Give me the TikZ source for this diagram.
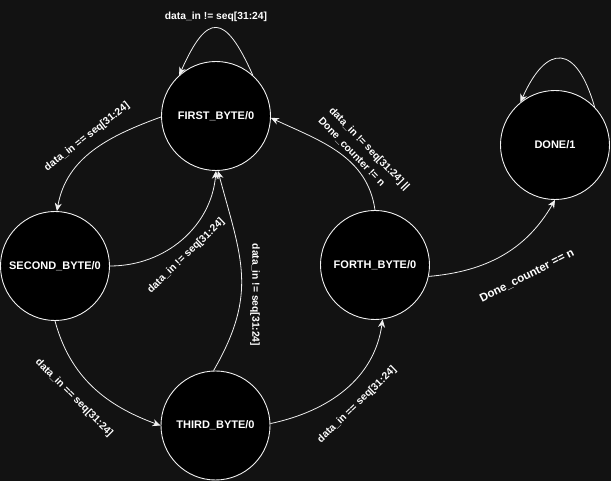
\documentclass[tikz,border=0pt]{standalone}
\usepackage{fontspec}
\setmainfont{Liberation Sans}
\usetikzlibrary{arrows.meta}
\definecolor{bgdark}{HTML}{121212}
\definecolor{edgegray}{HTML}{F0F0F0}

\begin{document}
\begin{tikzpicture}[x=1pt, y=1pt,
    state/.style={circle, draw=edgegray, fill=black, line width=0.9pt,
      inner sep=0pt, minimum size=109pt, text=white,
      font=\fontsize{11}{13}\selectfont\bfseries},
    trans/.style={draw=edgegray, line width=0.8pt,
      -{Stealth[length=8pt, width=7pt, inset=2.5pt]}},
    cond/.style={text=white, inner sep=0pt,
      font=\fontsize{10.3}{15}\selectfont\bfseries}]
    \fill[bgdark] (0,0) rectangle (611,481);
    % states
    \node[state] (first) at (216,365) {FIRST\_BYTE/0};
    \node[state] (second) at (55,215) {SECOND\_BYTE/0};
    \node[state] (third) at (215.5,55.5) {THIRD\_BYTE/0};
    \node[state] (forth) at (375,216) {FORTH\_BYTE/0};
    \node[state] (done) at (555,336) {DONE/1};
    % transitions
    \draw[trans] (first.48) to[out=114, in=66, looseness=2.4] (first.132);
    \draw[trans] (first.181) to[out=200, in=80] (second.88);
    \draw[trans] (second.east) to[out=0, in=265] (first.south);
    \draw[trans] (third.92) to[out=60, in=285, looseness=1.15] (first.272);
    \draw[trans] (second.south) to[out=285, in=160] (third.west);
    \draw[trans] (third.2) to[out=12, in=262] (forth.278);
    \draw[trans] (forth.north) to[out=98, in=335] (first.358);
    \draw[trans] (forth.348) to[out=5, in=240] (done.south);
    \draw[trans] (done.44) to[out=106, in=66, looseness=2.25] (done.129);
    % conditions
    \node[cond] (c1) at (216,464) {data\_in != seq[31:24]};
    \node[cond, rotate=38] (c2) at (87,344) {data\_in == seq[31:24]};
    \node[cond, rotate=44] (c3) at (186,225) {data\_in != seq[31:24]};
    \node[cond, rotate=-90] (c4) at (255,186) {data\_in != seq[31:24]};
    \node[cond, rotate=-45] (c5) at (74,83) {data\_in == seq[31:24]};
    \node[cond, rotate=44] (c6) at (357,76) {data\_in == seq[31:24]};
    \node[cond, rotate=-46, align=left] (c7) at (364,327)
      {data\_in != seq[31:24] ||\\Done\_counter != n};
    \node[cond, rotate=27, font=\fontsize{11.5}{14}\selectfont\bfseries]
      (c8) at (527,205) {Done\_counter == n};
  \end{tikzpicture}
\end{document}
